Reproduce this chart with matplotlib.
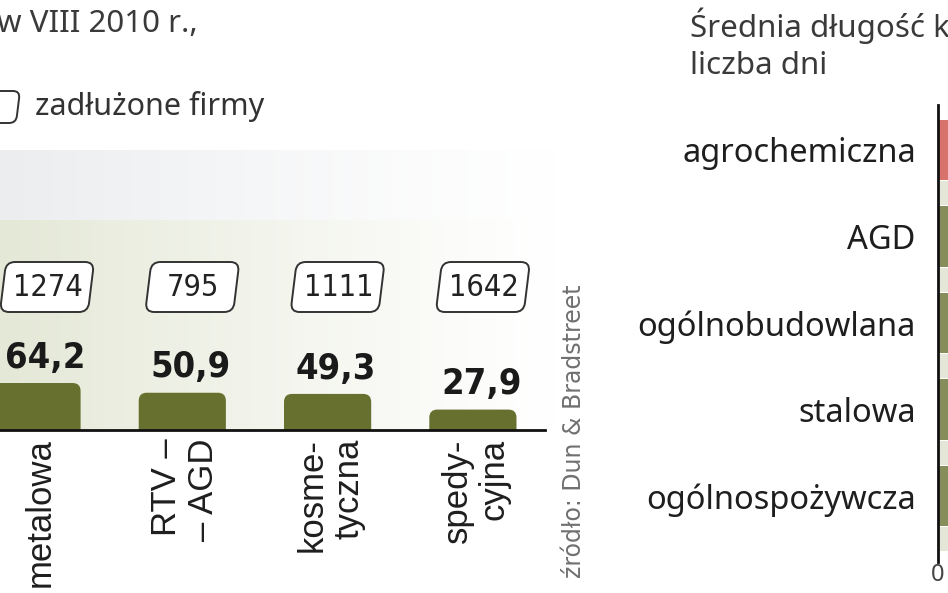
import numpy as np
import matplotlib
matplotlib.use("Agg")
import matplotlib.pyplot as plt
from matplotlib.patches import FancyBboxPatch
from matplotlib.transforms import Affine2D, blended_transform_factory

# --- left panel: branches (first bar is cut off at the left edge) ---
branze = ["metalowa", "RTV –\n– AGD", "kosme-\ntyczna", "spedy-\ncyjna"]
wartosci = [64.2, 50.9, 49.3, 27.9]
wartosci_txt = ["64,2", "50,9", "49,3", "27,9"]
zadluzone = [1274, 795, 1111, 1642]

# --- right panel: average number of days (bars run past the right edge) ---
branze_dni = ["agrochemiczna", "AGD", "ogólnobudowlana", "stalowa", "ogólnospożywcza"]
dni = [95, 82, 80, 78, 76]
dni_tlo = [90, 78, 76, 74, 72]
kolory_dni = ["#d8736b", "#878d5b", "#878d5b", "#878d5b", "#878d5b"]

W, H = 948, 593
fig = plt.figure(figsize=(W / 100, H / 100), dpi=100)


def px_axes(x0, y0, x1, y1):
    return fig.add_axes([x0 / W, 1 - y1 / H, (x1 - x0) / W, (y1 - y0) / H])


# background canvas in pixel coordinates
bg = fig.add_axes([0, 0, 1, 1], zorder=0)
bg.set_xlim(0, W)
bg.set_ylim(H, 0)
bg.axis("off")

# soft gradient behind the left chart
gx = np.linspace(0, 1, 300)
fade = np.clip(1 - gx, 0, 1) ** 1.2
img = np.ones((280, 300, 4))
c_top = np.array([0.925, 0.93, 0.94])
c_bot = np.array([0.895, 0.91, 0.84])
for r in range(280):
    img[r, :, :3] = c_top if r < 70 else c_bot
    img[r, :, 3] = fade
bg.imshow(img, extent=(0, 560, 430, 150), aspect="auto", zorder=0)

# --- left bar chart ---
ax = px_axes(0, 150, 545, 430)
ax.set_zorder(1)
ax.patch.set_alpha(0)
x = np.arange(len(wartosci))
ax.set_xlim(-37 / 145.3, (545 - 37) / 145.3)
ax.set_ylim(0, 280 / 0.732)
bars = ax.bar(x, wartosci, width=0.6, color="#68702f")
aspect = 145.3 / 0.732
for b in bars:
    b.set_visible(False)
    p = FancyBboxPatch((b.get_x(), -20), b.get_width(), b.get_height() + 20,
                       boxstyle="round,pad=0,rounding_size=0.055",
                       mutation_aspect=aspect, fc="#68702f", ec="none")
    ax.add_patch(p)
for s in ["top", "right", "left"]:
    ax.spines[s].set_visible(False)
ax.spines["bottom"].set_linewidth(2)
ax.spines["bottom"].set_color("#111111")
ax.set_xticks([])
ax.set_yticks([])

for xi, v, t in zip(x, wartosci, wartosci_txt):
    ax.annotate(t, (xi, v), xytext=(6, 11), textcoords="offset points",
                ha="center", va="baseline", fontsize=26, fontweight="bold",
                fontstretch="condensed", family="DejaVu Sans", color="#1a1a1a")

trans = blended_transform_factory(ax.transData, ax.transAxes)
for xi, lab in zip(x, branze):
    ax.text(xi + 0.02, -0.03, lab, transform=trans, rotation=90,
            rotation_mode="anchor", ha="right", va="center",
            multialignment="right", linespacing=1.15, fontsize=25,
            family="Liberation Sans", color="#1e1e1e")

# boxes with the number of indebted firms
for xi, n in zip(x, zadluzone):
    cx = ax.transData.transform((xi, 0))[0] + 10
    box = FancyBboxPatch((-44, -25), 88, 50, boxstyle="round,pad=0,rounding_size=9",
                         fc="white", ec="#333333", lw=1.4,
                         transform=Affine2D().skew_deg(-7, 0).translate(cx, 287) + bg.transData)
    bg.add_patch(box)
    bg.text(cx + 1, 288, str(n), ha="center", va="center", fontsize=22,
            fontstretch="condensed", family="DejaVu Sans", color="#222222")

# legend and titles
leg = FancyBboxPatch((-22, -16), 40, 32, boxstyle="round,pad=0,rounding_size=7",
                     fc="white", ec="#333333", lw=1.4,
                     transform=Affine2D().skew_deg(-7, 0).translate(0, 107) + bg.transData)
bg.add_patch(leg)
bg.text(35, 106, "zadłużone firmy", ha="left", va="center", fontsize=22,
        family="Noto Sans", color="#333333")
bg.text(-3, 24, "w VIII 2010 r.,", ha="left", va="center", fontsize=22.5,
        family="Noto Sans", color="#3a3a3a")
bg.text(574, 578, "źródło: Dun & Bradstreet", rotation=90, rotation_mode="anchor",
        ha="left", va="center", fontsize=17, family="DejaVu Sans", color="#707070")

bg.text(690, 26, "Średnia długość k", ha="left", va="center", fontsize=22.5,
        family="Noto Sans", color="#3a3a3a")
bg.text(690, 66, "liczba dni", ha="left", va="center", fontsize=22.5,
        family="Noto Sans", color="#3a3a3a")

# --- right horizontal bar chart ---
rax = px_axes(938, 105, 938 + 700, 562)
rax.set_zorder(1)
rax.patch.set_alpha(0)
y = np.arange(len(dni))
rax.set_ylim((562 - 150) / 86.5, -0.52)
rax.set_xlim(0, 100)
rax.barh(y, dni, height=0.7, color=kolory_dni)
rax.barh(y + 0.5, dni_tlo, height=0.28, color="#e4e6d8")
for s in ["top", "right", "bottom"]:
    rax.spines[s].set_visible(False)
rax.spines["left"].set_linewidth(2)
rax.spines["left"].set_color("#111111")
rax.set_yticks(y)
rax.set_yticklabels(branze_dni, fontsize=23.5, family="Noto Sans", color="#1e1e1e")
rax.tick_params(axis="y", length=0, pad=16)
rax.set_xticks([0])
rax.set_xticklabels(["0"], fontsize=17, family="Noto Sans", color="#444444")
rax.tick_params(axis="x", length=0, pad=1)

fig.savefig("out.png", dpi=100)
